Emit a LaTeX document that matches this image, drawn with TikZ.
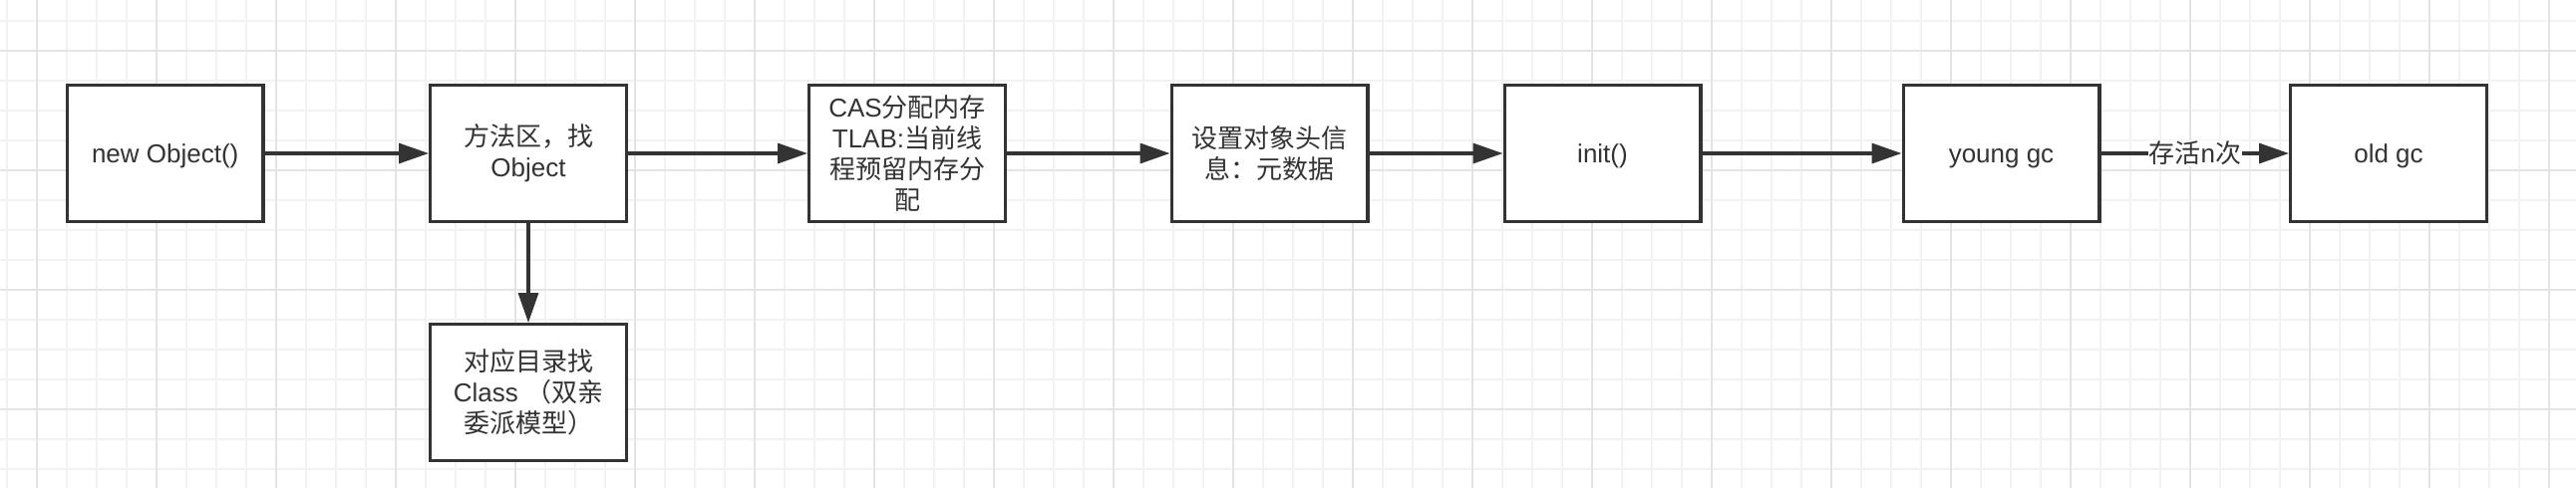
\documentclass[tikz,border=0pt]{standalone}
\usepackage{fontspec}
\setmainfont{Liberation Sans}
\newfontfamily\cjk{Noto Sans CJK SC}
\usetikzlibrary{arrows.meta}
\definecolor{ink}{HTML}{333333}
\definecolor{gridminor}{HTML}{F2F2F2}
\definecolor{gridmajor}{HTML}{E4E4E4}
\begin{document}
\begin{tikzpicture}[x=1pt,y=-1pt,
  box/.style={draw=ink, line width=3.3pt, fill=white, minimum width=196.7pt,
    minimum height=136.7pt, inner sep=0pt, align=center, text=ink,
    font=\fontsize{26}{31}\selectfont},
  oneline/.style={text height=21pt, text depth=2pt},
  arr/.style={draw=ink, line width=3.3pt, -{Triangle[length=30pt,width=20pt]}},
  lbl/.style={fill=white, text=ink, inner sep=1pt, font=\fontsize{26}{31}\selectfont},
  gminor/.style={draw=gridminor, line width=2pt},
  gmajor/.style={draw=gridmajor, line width=2pt}]
\useasboundingbox (0,0) rectangle (2584,490);
\fill[white] (0,0) rectangle (2584,490);
% grid
\foreach \i in {0,...,85} \draw[gminor] ({6.7+30*\i},0) -- ({6.7+30*\i},490);
\foreach \j in {0,...,15} \draw[gminor] (0,{20.7+30*\j}) -- (2584,{20.7+30*\j});
\foreach \i in {0,...,21} \draw[gmajor] ({36.7+120*\i},0) -- ({36.7+120*\i},490);
\foreach \j in {0,...,3} \draw[gmajor] (0,{50.7+120*\j}) -- (2584,{50.7+120*\j});
% boxes
\node[box, oneline] (b1) at (165.7,154) {new Object()};
\node[box] (b2) at (530,154) {{\cjk 方法区，找}\\Object};
\node[box] (b3) at (910,154) {CAS{\cjk 分配内存}\\TLAB:{\cjk 当前线}\\{\cjk 程预留内存分}\\{\cjk 配}};
\node[box] (b4) at (1273.5,154) {{\cjk 设置对象头信}\\{\cjk 息：元数据}};
\node[box, oneline] (b5) at (1607.5,154) {init()};
\node[box, oneline] (b6) at (2007.5,154) {young gc};
\node[box, oneline] (b7) at (2396,154) {old gc};
\node[box] (b8) at (530,394) {{\cjk 对应目录找}\\Class {\cjk （双亲}\\{\cjk 委派模型）}};
% connectors
\draw[arr] (b1) -- (b2);
\draw[arr] (b2) -- (b3);
\draw[arr] (b3) -- (b4);
\draw[arr] (b4) -- (b5);
\draw[arr] (b5) -- (b6);
\draw[arr] (b6) -- node[lbl] {{\cjk 存活}n{\cjk 次}} (b7);
\draw[arr] (b2) -- (b8);
\end{tikzpicture}
\end{document}
